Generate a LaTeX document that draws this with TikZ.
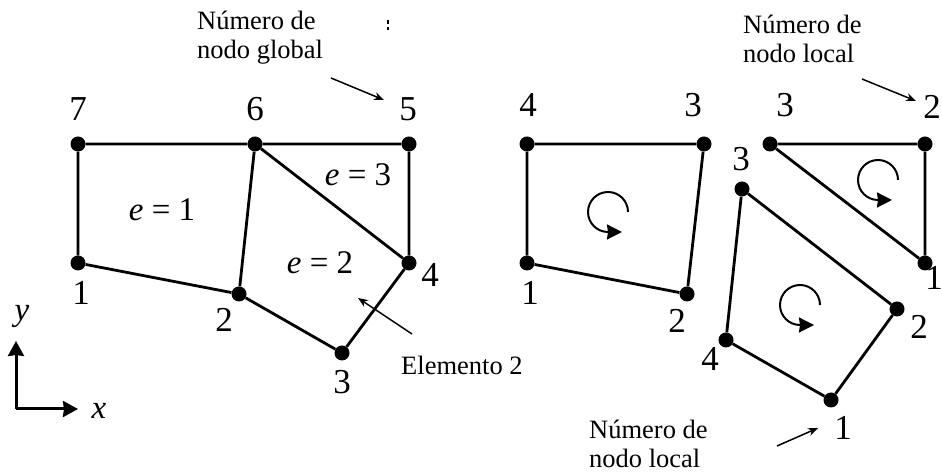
\documentclass[tikz,border=0pt]{standalone}
\usepackage{fontspec}
\setmainfont{Liberation Serif}
\usetikzlibrary{arrows.meta}
\tikzset{
  dot/.style={circle,fill=black,inner sep=0pt,minimum size=15pt},
  edge/.style={draw=black,line width=2.8pt},
  num/.style={inner sep=0pt,font=\fontsize{35}{35}\selectfont},
  elem/.style={inner sep=0pt,font=\fontsize{33}{33}\selectfont},
  axlab/.style={inner sep=0pt,font=\fontsize{33}{33}\selectfont\itshape},
  note/.style={inner sep=0pt,anchor=west,align=left,font=\fontsize{26.5}{29}\selectfont},
  pointer/.style={draw=black,line width=1.5pt,-{Stealth[length=10pt,width=8pt]}},
  axis/.style={draw=black,line width=3pt,-{Stealth[length=15pt,width=16pt,inset=1pt]}},
  turn/.style={draw=black,line width=2pt,-{Stealth[length=15pt,width=15pt,inset=1pt]}}
}
\begin{document}
\begin{tikzpicture}[x=1pt,y=1pt]
\useasboundingbox (0,0) rectangle (942,473);
\clip (0,0) rectangle (942,473);
% assembled mesh
\node[dot] (n7) at (78,329) {};
\node[dot] (n6) at (255,329) {};
\node[dot] (n5) at (409,329) {};
\node[dot] (n1) at (78,210) {};
\node[dot] (n2) at (239,179) {};
\node[dot] (n3) at (342,120) {};
\node[dot] (n4) at (409,210) {};
\draw[edge] (n7)--(n6) (n6)--(n5) (n5)--(n4) (n7)--(n1) (n1)--(n2) (n2)--(n6) (n6)--(n4) (n4)--(n3) (n3)--(n2);
\node[num] (l7) at (78,364) {7};
\node[num] (l6) at (255,364) {6};
\node[num] (l5) at (408,364) {5};
\node[num] (l1) at (81,180) {1};
\node[num] (l2) at (224,153) {2};
\node[num] (l3) at (342,91) {3};
\node[num] (l4) at (430,198) {4};
\node[elem] (e1) at (162,263) {\textit{e} = 1};
\node[elem] (e3) at (358,298) {\textit{e} = 3};
\node[elem] (e2) at (320,210) {\textit{e} = 2};
% axes
\coordinate (o) at (16,64);
\coordinate (ax) at (78,64);
\coordinate (ay) at (16,132);
\draw[axis] (o)--(ax);
\draw[axis] (o)--(ay);
\node[axlab] (lx) at (99,62) {x};
\node[axlab] (ly) at (22,157) {y};
% quadrilateral 1
\node[dot] (a4) at (527,329) {};
\node[dot] (a3) at (704,329) {};
\node[dot] (a1) at (527,210) {};
\node[dot] (a2) at (687,179) {};
\draw[edge] (a4)--(a3) (a3)--(a2) (a2)--(a1) (a1)--(a4);
\node[num] (la4) at (528,368) {4};
\node[num] (la3) at (693,368) {3};
\node[num] (la1) at (530,180) {1};
\node[num] (la2) at (677,152) {2};
\draw[turn] (628,261) arc[start angle=0,end angle=270,radius=20] -- ++(14,0);
% triangle
\node[dot] (t3) at (770,329) {};
\node[dot] (t2) at (925,329) {};
\node[dot] (t1) at (925,210) {};
\draw[edge] (t3)--(t2) (t2)--(t1) (t1)--(t3);
\node[num] (lt3) at (785,368) {3};
\node[num] (lt2) at (932,366) {2};
\node[num] (lt1) at (934,195) {1};
\draw[turn] (898,293) arc[start angle=0,end angle=270,radius=20] -- ++(14,0);
% quadrilateral 2
\node[dot] (q3) at (742,284) {};
\node[dot] (q2) at (897,164) {};
\node[dot] (q1) at (831,73) {};
\node[dot] (q4) at (726,133) {};
\draw[edge] (q3)--(q2) (q2)--(q1) (q1)--(q4) (q4)--(q3);
\node[num] (lq3) at (741,314) {3};
\node[num] (lq2) at (919,146) {2};
\node[num] (lq1) at (843,45) {1};
\node[num] (lq4) at (710,114) {4};
\draw[turn] (820,168) arc[start angle=0,end angle=270,radius=20] -- ++(14,0);
% notes
\node[note] (g) at (197,435) {Número de\\nodo global};
\node[note] (lo1) at (743,434) {Número de\\nodo local};
\node[note] (lo2) at (589,29) {Número de\\nodo local};
\node[note] (el) at (401,108) {Elemento 2};
\coordinate (p1s) at (331,395);
\coordinate (p1e) at (384,373);
\coordinate (p2s) at (862,394);
\coordinate (p2e) at (916,372);
\coordinate (p3s) at (777,27);
\coordinate (p3e) at (818,45);
\coordinate (p4s) at (412,139);
\coordinate (p4e) at (358,175);
\draw[pointer] (p1s)--(p1e);
\draw[pointer] (p2s)--(p2e);
\draw[pointer] (p3s)--(p3e);
\draw[pointer] (p4s)--(p4e);
% scan specks
\fill (386.5,449) rectangle (388.5,453);
\fill (386.5,443) rectangle (388.5,446);
\end{tikzpicture}
\end{document}
